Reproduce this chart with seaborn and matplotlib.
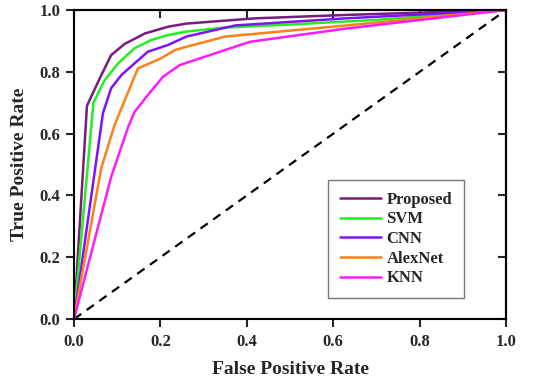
import matplotlib
matplotlib.use("Agg")
import matplotlib.pyplot as plt
import seaborn as sns
import pandas as pd

# ROC points
proposed_fpr = [0.0, 0.03, 0.06, 0.086, 0.117, 0.164, 0.218, 0.26, 0.42, 0.63, 1.0]
proposed_tpr = [0.0, 0.69, 0.78, 0.854, 0.89, 0.924, 0.946, 0.956, 0.973, 0.984, 1.0]

svm_fpr = [0.0, 0.045, 0.071, 0.102, 0.14, 0.179, 0.218, 0.26, 0.346, 0.5, 0.7, 1.0]
svm_tpr = [0.0, 0.70, 0.773, 0.827, 0.876, 0.903, 0.919, 0.93, 0.943, 0.953, 0.968, 1.0]

cnn_fpr = [0.0, 0.067, 0.086, 0.11, 0.14, 0.171, 0.218, 0.26, 0.373, 0.63, 1.0]
cnn_tpr = [0.0, 0.666, 0.747, 0.79, 0.827, 0.865, 0.887, 0.914, 0.95, 0.973, 1.0]

alexnet_fpr = [0.0, 0.063, 0.094, 0.121, 0.148, 0.202, 0.233, 0.26, 0.35, 0.63, 1.0]
alexnet_tpr = [0.0, 0.488, 0.628, 0.72, 0.811, 0.844, 0.87, 0.881, 0.914, 0.95, 1.0]

knn_fpr = [0.0, 0.056, 0.086, 0.125, 0.14, 0.171, 0.206, 0.245, 0.407, 0.63, 1.0]
knn_tpr = [0.0, 0.30, 0.46, 0.62, 0.67, 0.725, 0.784, 0.822, 0.897, 0.94, 1.0]

series_names = ["Proposed", "SVM", "CNN", "AlexNet", "KNN"]
series_colors = ["#7B1A7E", "#22EE22", "#7F11FF", "#FF8019", "#FF1AFF"]
tick_values = [0, 0.2, 0.4, 0.6, 0.8, 1.0]
tick_labels = ["0.0", "0.2", "0.4", "0.6", "0.8", "1.0"]

sns.set_style("ticks")
plt.rcParams["font.family"] = ["Liberation Serif", "DejaVu Serif"]
plt.rcParams["font.weight"] = "bold"

frames = []
for name, fpr, tpr in zip(series_names,
                          [proposed_fpr, svm_fpr, cnn_fpr, alexnet_fpr, knn_fpr],
                          [proposed_tpr, svm_tpr, cnn_tpr, alexnet_tpr, knn_tpr]):
    frames.append(pd.DataFrame({"fpr": fpr, "tpr": tpr, "model": name}))
roc_df = pd.concat(frames, ignore_index=True)

fig = plt.figure(figsize=(5.46, 3.84), dpi=100)
ax = fig.add_axes([0.1355, 0.169, 0.7915, 0.805])

# chance line
ax.plot([0, 1], [0, 1], color="black", linestyle=(0, (4, 3)), linewidth=1.6)

sns.lineplot(data=roc_df, x="fpr", y="tpr", hue="model", hue_order=series_names,
             palette=series_colors, sort=False, estimator=None, linewidth=1.8, ax=ax)

ax.set_xlim(0, 1)
ax.set_ylim(0, 1)
ax.set_xticks(tick_values)
ax.set_yticks(tick_values)
ax.set_xticklabels(tick_labels)
ax.set_yticklabels(tick_labels)
# outward ticks on left/bottom, inward mirrored ticks on top/right
ax.tick_params(axis="x", which="major", direction="out", length=6, width=1.5,
               labelsize=12, pad=5)
ax.tick_params(axis="y", which="major", direction="out", length=6, width=1.5,
               labelsize=12, pad=4)
top = ax.secondary_xaxis("top")
top.set_xticks(tick_values)
top.tick_params(direction="in", length=6, width=1.5, labeltop=False)
right = ax.secondary_yaxis("right")
right.set_yticks(tick_values)
right.tick_params(direction="in", length=6, width=1.5, labelright=False)
for lbl in ax.get_xticklabels() + ax.get_yticklabels():
    lbl.set_fontweight("bold")
for a in (ax, top, right):
    for spine in a.spines.values():
        spine.set_linewidth(1.5)
        spine.set_color("black")

ax.set_xlabel("False Positive Rate", fontsize=14, fontweight="bold", labelpad=8)
ax.set_ylabel("True Positive Rate", fontsize=14, fontweight="bold", labelpad=8)

leg = ax.legend(loc="lower left", bbox_to_anchor=(0.588, 0.068), fontsize=12,
                frameon=True, fancybox=False, handlelength=2.5, handletextpad=0.3,
                labelspacing=0.22, borderpad=0.7, borderaxespad=0)
leg.get_frame().set_edgecolor("#555555")
leg.get_frame().set_linewidth(1.0)
for txt in leg.get_texts():
    txt.set_fontweight("bold")

fig.savefig("out.png", dpi=100)
